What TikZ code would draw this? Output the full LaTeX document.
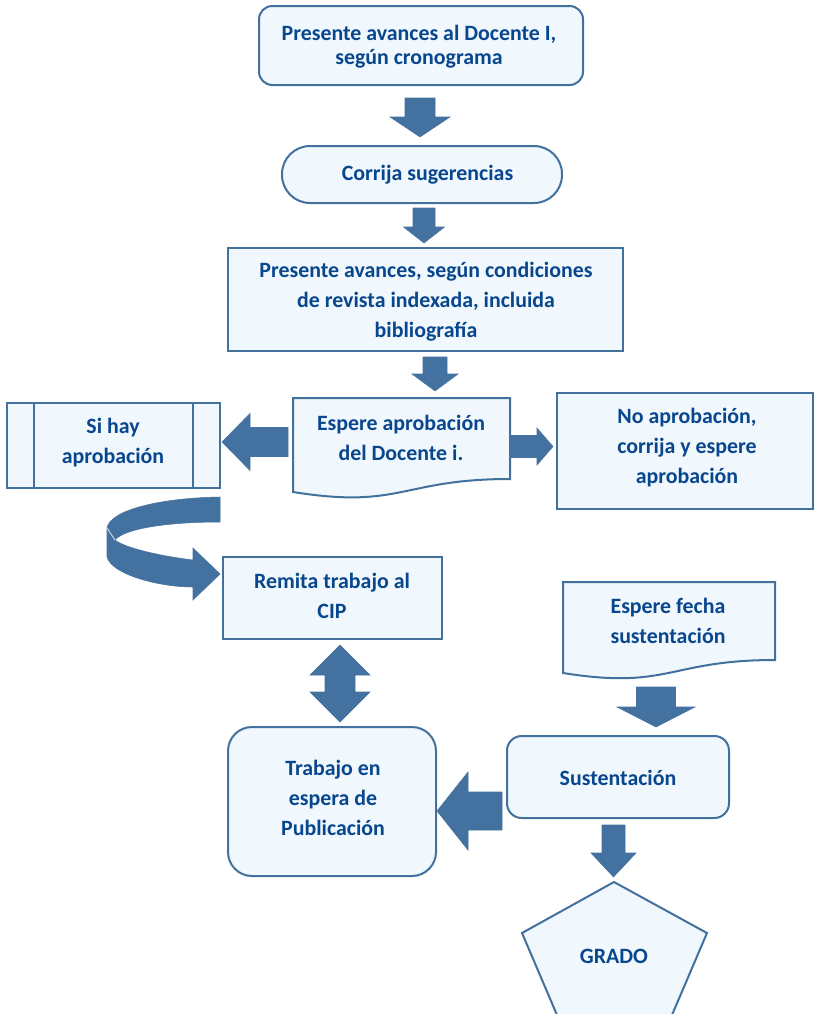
\documentclass[tikz,border=0pt]{standalone}
\usepackage{fontspec}
\setmainfont{Carlito}
\usetikzlibrary{calc}

\definecolor{boxfill}{RGB}{240,247,253}
\definecolor{boxline}{RGB}{65,113,156}
\definecolor{arrowfill}{RGB}{68,114,160}
\definecolor{labeltext}{RGB}{8,70,142}

\tikzset{
  shapebox/.style={draw=boxline, line width=1.5pt, fill=boxfill, inner sep=0pt},
  txt/.style={text=labeltext, font=\fontsize{16.4}{22.4}\selectfont\bfseries, align=center, inner sep=0pt},
  boxdim/.style 2 args={minimum width=#1*0.75pt, minimum height=#2*0.75pt},
  barrow/.style={fill=arrowfill, draw=arrowfill, line width=0.4pt, line join=miter},
}

% vertical block arrow: x, y tail, y head base, y tip, shaft half width, head half width
\newcommand\downblock[6]{%
  \fill[barrow] (#1-#5,#2) -- (#1+#5,#2) -- (#1+#5,#3) -- (#1+#6,#3) -- (#1,#4)
    -- (#1-#6,#3) -- (#1-#5,#3) -- cycle;}
% horizontal block arrow: y, x tail, x head base, x tip, shaft half width, head half width
\newcommand\sideblock[6]{%
  \fill[barrow] (#2,#1-#5) -- (#3,#1-#5) -- (#3,#1-#6) -- (#4,#1) -- (#3,#1+#6)
    -- (#3,#1+#5) -- (#2,#1+#5) -- cycle;}

\begin{document}
\begin{tikzpicture}[x=0.75pt,y=-0.75pt]
\useasboundingbox (0,0) rectangle (815,1014);

% first step
\node[shapebox, boxdim={324}{79}, rounded corners=10pt] (avances) at (421,45.5) {};
\node[txt, font=\fontsize{16.4}{18}\selectfont\bfseries] (avancesT) at (419,47)
  {Presente avances al Docente I,\\según cronograma};

\downblock{420}{98}{117}{137}{15}{30}

% terminator
\node[shapebox, boxdim={280}{57}, rounded corners=21pt] (corrija) at (422,174.5) {};
\node[txt] (corrijaT) at (427.5,174.5) {Corrija sugerencias};

\downblock{424}{208}{227}{243}{11}{20.5}

\node[shapebox, boxdim={395}{103}] (revista) at (425.5,299.5) {};
\node[txt] (revistaT) at (426,302)
  {Presente avances, según condiciones\\de revista indexada, incluida\\bibliografía};

\downblock{435}{357}{374}{391}{12}{23}

% document shape: waiting for approval
\draw[shapebox] (293,398) -- (510,398) -- (510,479)
  .. controls (401.5,479) and (401.5,509.4) .. (293,492) -- cycle;
\node[txt] (espera) at (401,438) {Espere aprobación\\del Docente i.};

% predefined process: approved
\node[shapebox, boxdim={213}{85}] (sihay) at (113.5,445.5) {};
\draw[boxline, line width=1.5pt] (34,403) -- (34,488) (193,403) -- (193,488);
\node[txt] (sihayT) at (113,442.5) {Si hay\\aprobación};

\sideblock{442}{288}{250}{222}{14.5}{28.5}
\sideblock{446.5}{510}{537}{553}{11}{18.5}

\node[shapebox, boxdim={256}{116}] (noaprob) at (685,451) {};
\node[txt] (noaprobT) at (687,447.5) {No aprobación,\\corrija y espere\\aprobación};

% curved arrow towards the CIP step
\fill[barrow] (220,497) .. controls (160,498) and (110,510) .. (107,528)
  -- (107,557) .. controls (112,575) and (160,587) .. (193,587)
  -- (193,600) -- (220,574) -- (193,548) -- (193,560)
  .. controls (160,556) and (125,548) .. (115,540)
  .. controls (125,528) and (170,522) .. (220,522) -- cycle;
\draw[white!65!arrowfill, line width=0.8pt] (107,528) -- (115,540);

\node[shapebox, boxdim={219}{82}] (cip) at (332.5,598) {};
\node[txt] (cipT) at (332,596) {Remita trabajo al\\CIP};

% two-way arrow between CIP and publication
\fill[barrow] (340,645) -- (370,675) -- (355,675) -- (355,692) -- (370,692) -- (340,722)
  -- (310,692) -- (325,692) -- (325,675) -- (310,675) -- cycle;

\node[shapebox, boxdim={208}{149}, rounded corners=18pt] (publica) at (332,801.5) {};
\node[txt] (publicaT) at (333,798) {Trabajo en\\espera de\\Publicación};

% document shape: defense date
\draw[shapebox] (563,582) -- (775,582) -- (775,660)
  .. controls (669,660) and (669,690) .. (563,673) -- cycle;
\node[txt] (fecha) at (668,620.5) {Espere fecha\\sustentación};

\downblock{656}{687}{707}{727}{19.5}{39}

\node[shapebox, boxdim={222}{82}, rounded corners=11pt] (sustenta) at (618,777) {};
\node[txt] (sustentaT) at (618,777.5) {Sustentación};

\sideblock{811}{502}{468}{437}{19}{39}

\downblock{613.5}{825}{853}{877}{11.5}{22.5}

% final pentagon
\draw[shapebox] (614,882) -- (707,933) -- (672,1015) -- (557,1015) -- (522,933) -- cycle;
\node[txt] (grado) at (614,956) {GRADO};
\end{tikzpicture}
\end{document}
